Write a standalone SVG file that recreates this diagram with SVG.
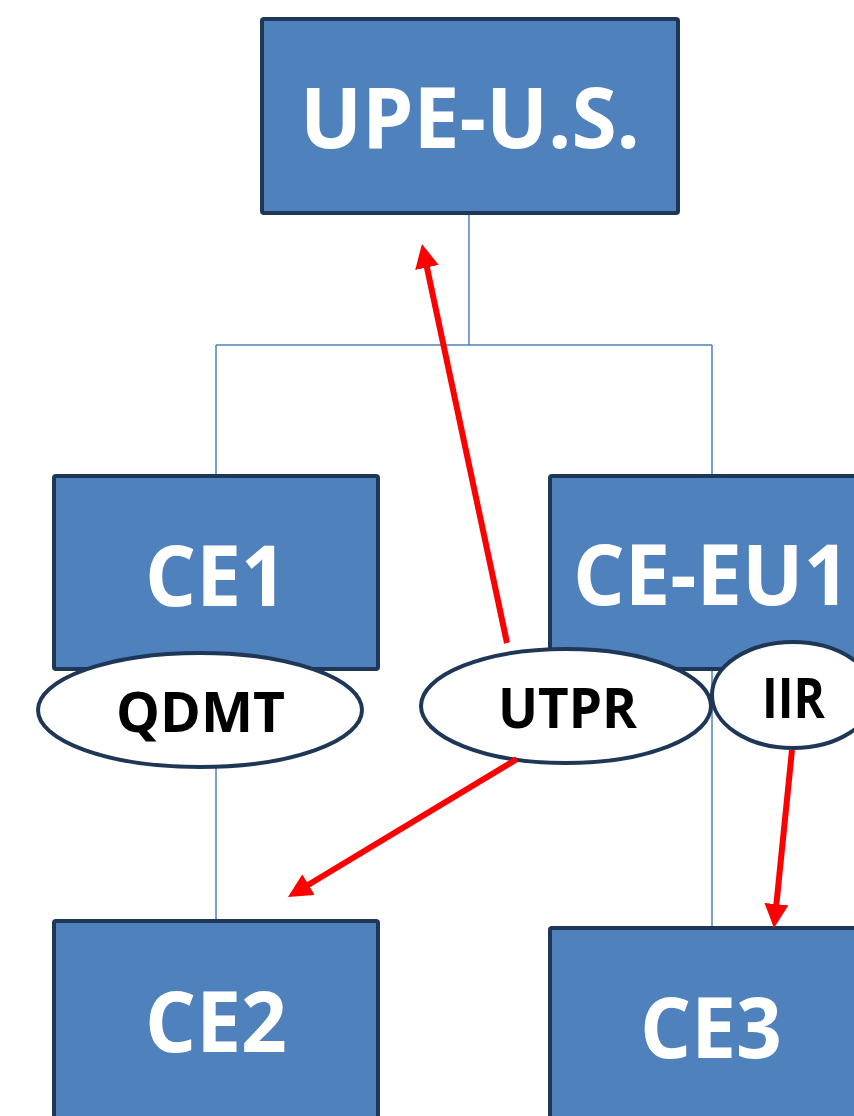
<svg xmlns="http://www.w3.org/2000/svg" width="854" height="1116" viewBox="0 0 854 1116">
<style>
.box{fill:#4F81BD;stroke:#1F3756;stroke-width:4}
.oval{fill:#FFFFFF;stroke:#1F3756;stroke-width:4}
.big{font-family:"Open Sans","Liberation Sans",sans-serif;font-weight:bold;font-size:84px;fill:#FFFFFF}
.lbl{font-family:"Open Sans","Liberation Sans",sans-serif;font-weight:bold;font-size:56px;fill:#000000}
.conn{fill:none;stroke:#4F81BD;stroke-width:1.5}
.red{stroke:#FF0000;stroke-width:6;fill:none;marker-end:url(#ah)}
</style>
<defs>
<marker id="ah" markerWidth="4" markerHeight="4" refX="1" refY="2" orient="auto" markerUnits="strokeWidth">
<path d="M0,0 L4,2 L0,4 z" fill="#FF0000"/>
</marker>
</defs>
<g id="connectors">
<path class="conn" d="M469,213 V345 M216,345 H712 M216,345 V476 M712,345 V476"/>
<path class="conn" d="M216,768 V921"/>
<path class="conn" d="M712,669 V928"/>
</g>
<g id="upe-us">
<rect class="box" x="262" y="19" width="416" height="194" rx="2"/>
<text class="big" x="300" y="148" textLength="340" lengthAdjust="spacingAndGlyphs">UPE-U.S.</text>
</g>
<g id="ce1">
<rect class="box" x="54" y="476" width="324" height="193" rx="2"/>
<text class="big" x="145" y="606" textLength="142" lengthAdjust="spacingAndGlyphs">CE1</text>
</g>
<g id="ce-eu1">
<rect class="box" x="550" y="476" width="320" height="193" rx="2"/>
<text class="big" x="573" y="605" textLength="277" lengthAdjust="spacingAndGlyphs">CE-EU1</text>
</g>
<g id="ce2">
<rect class="box" x="54" y="921" width="324" height="220" rx="2"/>
<text class="big" x="145" y="1052" textLength="142" lengthAdjust="spacingAndGlyphs">CE2</text>
</g>
<g id="ce3">
<rect class="box" x="550" y="928" width="320" height="220" rx="2"/>
<text class="big" x="640" y="1058" textLength="142" lengthAdjust="spacingAndGlyphs">CE3</text>
</g>
<g id="qdmt">
<ellipse class="oval" cx="200" cy="710" rx="162" ry="57"/>
<text class="lbl" x="116" y="732" textLength="169" lengthAdjust="spacingAndGlyphs">QDMT</text>
</g>
<g id="utpr">
<ellipse class="oval" cx="566" cy="706" rx="145" ry="57"/>
<text class="lbl" x="498" y="728" textLength="139" lengthAdjust="spacingAndGlyphs">UTPR</text>
</g>
<g id="iir">
<ellipse class="oval" cx="793" cy="695" rx="81" ry="53"/>
<text class="lbl" x="762" y="718" textLength="63" lengthAdjust="spacingAndGlyphs">IIR</text>
</g>
<g id="arrows">
<line class="red" x1="507" y1="643" x2="425.7" y2="261.6"/>
<line class="red" x1="517" y1="759" x2="303.4" y2="887.7"/>
<line class="red" x1="792" y1="750" x2="775.8" y2="910.1"/>
</g>
</svg>
